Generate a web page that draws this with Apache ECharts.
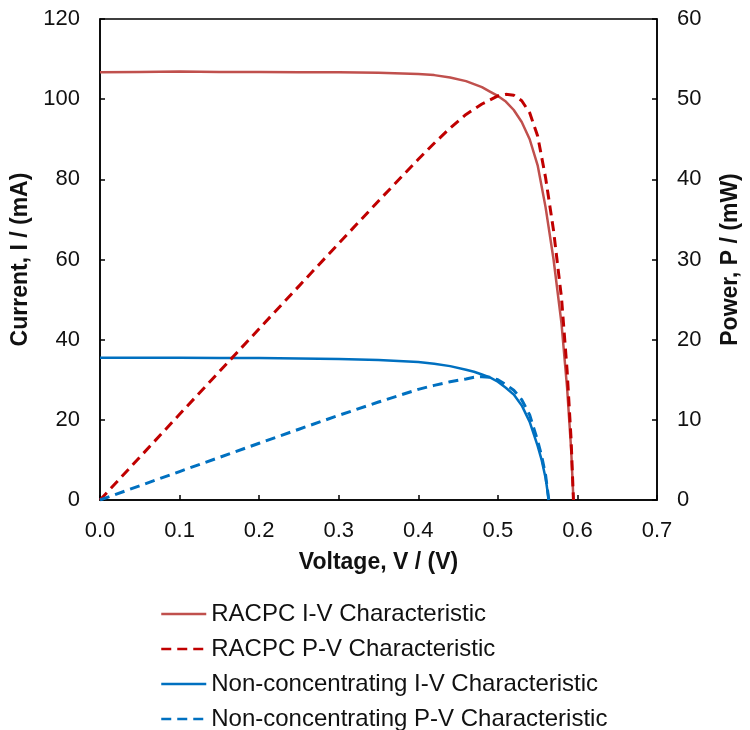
<!DOCTYPE html>
<html>
<head>
<meta charset="utf-8">
<script src="https://cdn.jsdelivr.net/npm/echarts@6/dist/echarts.min.js"></script>
<style>html,body{margin:0;padding:0;background:#fff}#c{width:750px;height:730px}</style>
</head>
<body>
<div id="c"></div>
<script>
// Voltage (V) sample points
const racpcV = [0, 0.05, 0.1, 0.15, 0.2, 0.25, 0.3, 0.35, 0.4, 0.42, 0.44, 0.46, 0.48, 0.49, 0.50, 0.51, 0.52, 0.53, 0.54, 0.55, 0.56, 0.57, 0.58, 0.587, 0.592, 0.595];
// RACPC current (mA)
const racpcI = [106.7, 106.8, 106.9, 106.8, 106.8, 106.7, 106.7, 106.6, 106.3, 106.0, 105.4, 104.5, 103.0, 101.9, 100.8, 99.4, 97.3, 94.3, 90.0, 83.5, 73.0, 60.0, 44.0, 28.0, 13.0, 0];
// RACPC power (mW)
const racpcP = [0, 5.34, 10.69, 16.02, 21.36, 26.68, 32.0, 37.3, 42.5, 44.5, 46.4, 48.1, 49.4, 49.9, 50.4, 50.6, 50.5, 49.8, 48.3, 45.4, 40.2, 33.6, 25.2, 16.2, 7.6, 0];

const ncV = [0, 0.05, 0.1, 0.15, 0.2, 0.25, 0.3, 0.35, 0.4, 0.42, 0.44, 0.46, 0.47, 0.48, 0.49, 0.5, 0.51, 0.52, 0.53, 0.54, 0.55, 0.555, 0.56, 0.564];
// Non-concentrating current (mA)
const ncI = [35.5, 35.5, 35.5, 35.4, 35.4, 35.3, 35.2, 34.9, 34.4, 34.0, 33.4, 32.5, 32.0, 31.3, 30.6, 29.5, 28.0, 26.3, 23.6, 19.5, 13.5, 10.0, 5.5, 0];
// Non-concentrating power (mW)
const ncP = [0, 1.78, 3.55, 5.31, 7.08, 8.83, 10.56, 12.22, 13.8, 14.3, 14.75, 15.1, 15.3, 15.38, 15.3, 15.0, 14.4, 13.7, 12.5, 10.6, 7.4, 5.5, 3.1, 0];

const seriesNames = ['RACPC I-V Characteristic', 'RACPC P-V Characteristic', 'Non-concentrating I-V Characteristic', 'Non-concentrating P-V Characteristic'];

function pairs(xs, ys) { return xs.map((x, i) => [x, ys[i]]); }

const font = 'Arial, "Liberation Sans", sans-serif';
const axisName = { fontFamily: font, fontSize: 23, fontWeight: 'bold', color: '#111' };
const tickLbl = { fontFamily: font, fontSize: 22, color: '#111' };
const chart = echarts.init(document.getElementById('c'));
chart.setOption({
  animation: false,
  backgroundColor: '#fff',
  grid: { left: 100, right: 90, top: 19, bottom: 230, show: true, borderColor: '#000', borderWidth: 1.5, backgroundColor: 'transparent' },
  legend: {
    orient: 'vertical', left: 160, top: 602, height: 300, padding: 0,
    itemWidth: 45, itemHeight: 14, itemGap: 11,
    itemStyle: { opacity: 0 },
    lineStyle: { width: 2.5 },
    textStyle: { fontFamily: font, fontSize: 24, color: '#111' },
    data: seriesNames
  },
  xAxis: {
    type: 'value', min: 0, max: 0.7, interval: 0.1,
    name: 'Voltage, V / (V)', nameLocation: 'middle', nameGap: 51,
    nameTextStyle: axisName,
    axisLine: { show: true, lineStyle: { color: '#000', width: 1.5 } },
    axisTick: { show: true, inside: true, length: 5, lineStyle: { color: '#000', width: 1.5 } },
    axisLabel: Object.assign({ margin: 20, formatter: v => v.toFixed(1) }, tickLbl),
    splitLine: { show: false }
  },
  yAxis: [
    {
      type: 'value', min: 0, max: 120, interval: 20, position: 'left',
      name: 'Current, I / (mA)', nameLocation: 'middle', nameGap: 65, nameRotate: 90,
      nameTextStyle: axisName,
      axisLine: { show: true, lineStyle: { color: '#000', width: 1.5 } },
      axisTick: { show: true, inside: true, length: 5, lineStyle: { color: '#000', width: 1.5 } },
      axisLabel: Object.assign({ margin: 20 }, tickLbl),
      splitLine: { show: false }
    },
    {
      type: 'value', min: 0, max: 60, interval: 10, position: 'right',
      name: 'Power, P / (mW)', nameLocation: 'middle', nameGap: 62, nameRotate: 90,
      nameTextStyle: axisName,
      axisLine: { show: true, lineStyle: { color: '#000', width: 1.5 } },
      axisTick: { show: true, inside: true, length: 5, lineStyle: { color: '#000', width: 1.5 } },
      axisLabel: Object.assign({ margin: 20 }, tickLbl),
      splitLine: { show: false }
    }
  ],
  series: [
    { name: seriesNames[0], type: 'line', yAxisIndex: 0, data: pairs(racpcV, racpcI), symbol: 'none', smooth: false,
      lineStyle: { color: '#C0504D', width: 2.5 }, itemStyle: { color: '#C0504D' }, z: 3 },
    { name: seriesNames[1], type: 'line', yAxisIndex: 1, data: pairs(racpcV, racpcP), symbol: 'none', smooth: false,
      lineStyle: { color: '#C00000', width: 3, type: [10, 6] }, itemStyle: { color: '#C00000' }, z: 4 },
    { name: seriesNames[2], type: 'line', yAxisIndex: 0, data: pairs(ncV, ncI), symbol: 'none', smooth: false,
      lineStyle: { color: '#0070C0', width: 2.5 }, itemStyle: { color: '#0070C0' }, z: 3 },
    { name: seriesNames[3], type: 'line', yAxisIndex: 1, data: pairs(ncV, ncP), symbol: 'none', smooth: false,
      lineStyle: { color: '#0070C0', width: 3, type: [10, 6] }, itemStyle: { color: '#0070C0' }, z: 4 }
  ]
});
</script>
</body>
</html>
